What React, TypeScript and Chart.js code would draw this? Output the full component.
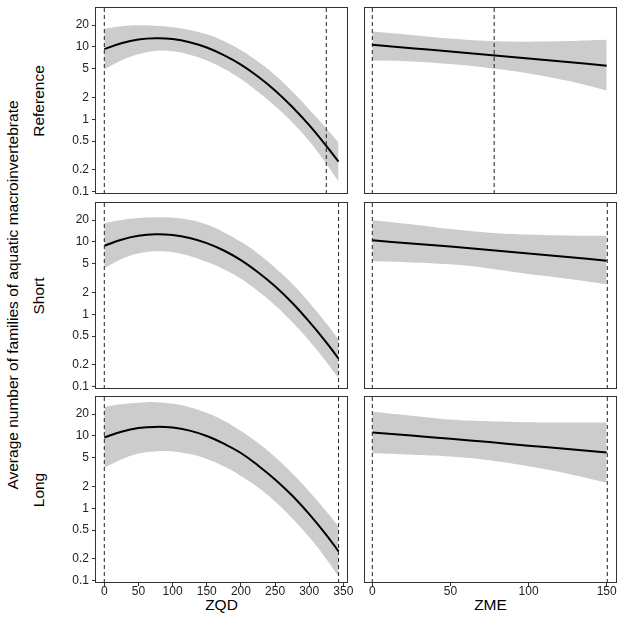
import React, { useEffect, useRef } from "react";
import { Chart, registerables } from "chart.js";
Chart.register(...registerables);

const FONT = "'Liberation Sans', Arial, Helvetica, sans-serif";

// ---- text ----
const ROW_LABELS = ["Reference", "Short", "Long"];
const Y_TITLE = "Average number of families of aquatic macroinvertebrate";
const X_TITLES = ["ZQD", "ZME"];

// ---- tick labels ----
const Y_TICKS = [0.1, 0.2, 0.5, 1, 2, 5, 10, 20];
const ZQD_TICKS = [0, 50, 100, 150, 200, 250, 300, 350];
const ZME_TICKS = [0, 50, 100, 150];

// ---- ZQD data ----
const ZQD_X = [0, 25, 50, 75, 100, 125, 150, 175, 200, 225, 250, 275, 300, 325, 343];
const REF_ZQD_FIT = [9.3, 11.2, 12.6, 13.1, 12.8, 11.6, 9.8, 7.7, 5.7, 3.9, 2.5, 1.49, 0.83, 0.43, 0.26];
const REF_ZQD_HI = [17.8, 19.3, 19.9, 19.6, 18.7, 17.1, 14.9, 12.0, 9.0, 6.3, 4.1, 2.44, 1.37, 0.755, 0.48];
const REF_ZQD_LO = [4.9, 6.5, 7.9, 8.8, 8.7, 7.8, 6.5, 5.0, 3.6, 2.4, 1.52, 0.91, 0.5, 0.244, 0.139];

const SHORT_ZQD_FIT = [8.8, 10.7, 12.1, 12.7, 12.4, 11.3, 9.6, 7.6, 5.6, 3.8, 2.43, 1.44, 0.79, 0.41, 0.245];
const SHORT_ZQD_HI = [18.0, 20.0, 21.3, 21.8, 21.6, 20.2, 17.3, 13.6, 10.0, 6.9, 4.4, 2.65, 1.46, 0.75, 0.45];
const SHORT_ZQD_LO = [4.3, 5.8, 6.9, 7.4, 7.2, 6.4, 5.3, 4.2, 3.1, 2.1, 1.33, 0.78, 0.43, 0.22, 0.132];

const LONG_ZQD_FIT = [9.5, 11.4, 12.8, 13.3, 13.0, 11.8, 9.95, 7.8, 5.8, 3.9, 2.5, 1.5, 0.83, 0.43, 0.254];
const LONG_ZQD_HI = [25.2, 27.3, 28.6, 29.2, 27.7, 24.9, 20.8, 16.2, 11.7, 8.0, 5.1, 3.05, 1.71, 0.91, 0.56];
const LONG_ZQD_LO = [3.6, 4.7, 5.7, 6.1, 6.1, 5.6, 4.8, 3.8, 2.8, 1.95, 1.24, 0.73, 0.4, 0.2, 0.115];

// ---- ZME data ----
const ZME_X = [0, 25, 50, 75, 100, 125, 150];
const REF_ZME_FIT = [10.7, 9.6, 8.6, 7.7, 6.9, 6.2, 5.5];
const REF_ZME_HI = [16.3, 14.6, 13.0, 12.0, 11.8, 12.0, 12.5];
const REF_ZME_LO = [6.5, 6.3, 5.8, 5.1, 4.3, 3.4, 2.5];

const SHORT_ZME_FIT = [10.5, 9.5, 8.6, 7.7, 6.9, 6.2, 5.5];
const SHORT_ZME_HI = [19.9, 17.5, 15.0, 13.4, 12.6, 12.2, 12.1];
const SHORT_ZME_LO = [5.4, 5.2, 4.9, 4.3, 3.6, 3.1, 2.6];

const LONG_ZME_FIT = [11.1, 10.1, 9.1, 8.2, 7.3, 6.6, 5.9];
const LONG_ZME_HI = [21.5, 19.0, 16.8, 15.9, 15.4, 15.3, 15.3];
const LONG_ZME_LO = [5.75, 5.5, 5.2, 4.6, 3.8, 3.0, 2.26];

// ---- dashed reference lines ----
const REF_ZQD_VLINES = [0, 325];
const SHORT_ZQD_VLINES = [0, 343];
const LONG_ZQD_VLINES = [0, 343];
const REF_ZME_VLINES = [0, 78];
const SHORT_ZME_VLINES = [0, 150.4];
const LONG_ZME_VLINES = [0, 150.4];

// ---- axis ranges ----
const Y_MIN = 0.093;
const Y_MAX = 35.5;
const ZQD_RANGE = [-13.6, 356.8];
const ZME_RANGE = [-5.3, 156.6];

// ---- layout ----
const COL_LEFT = [95, 364];
const FRAME_W = 253;
const ROW_TOP = [7, 202, 396];
const FRAME_H = 187;
const Y_AXIS_W = 50;
const X_AXIS_H = 22;
const PAD = 8;
const RIGHT_PAD = [14, 6];

const framePlugin = {
  id: "frame",
  afterDraw(chart: any) {
    const { ctx, chartArea } = chart;
    const { left, top, right, bottom } = chartArea;
    ctx.save();
    ctx.strokeStyle = "#333333";
    ctx.lineWidth = 1;
    ctx.strokeRect(left + 0.5, top + 0.5, right - left - 1, bottom - top - 1);
    ctx.restore();
  },
};

type PanelSpec = {
  row: number;
  col: number;
  x: number[];
  fit: number[];
  hi: number[];
  lo: number[];
  vlines: number[];
};

const PANELS: PanelSpec[] = [
  { row: 0, col: 0, x: ZQD_X, fit: REF_ZQD_FIT, hi: REF_ZQD_HI, lo: REF_ZQD_LO, vlines: REF_ZQD_VLINES },
  { row: 0, col: 1, x: ZME_X, fit: REF_ZME_FIT, hi: REF_ZME_HI, lo: REF_ZME_LO, vlines: REF_ZME_VLINES },
  { row: 1, col: 0, x: ZQD_X, fit: SHORT_ZQD_FIT, hi: SHORT_ZQD_HI, lo: SHORT_ZQD_LO, vlines: SHORT_ZQD_VLINES },
  { row: 1, col: 1, x: ZME_X, fit: SHORT_ZME_FIT, hi: SHORT_ZME_HI, lo: SHORT_ZME_LO, vlines: SHORT_ZME_VLINES },
  { row: 2, col: 0, x: ZQD_X, fit: LONG_ZQD_FIT, hi: LONG_ZQD_HI, lo: LONG_ZQD_LO, vlines: LONG_ZQD_VLINES },
  { row: 2, col: 1, x: ZME_X, fit: LONG_ZME_FIT, hi: LONG_ZME_HI, lo: LONG_ZME_LO, vlines: LONG_ZME_VLINES },
];

function Panel({ p }: { p: PanelSpec }) {
  const ref = useRef<HTMLCanvasElement>(null);
  const showY = p.col === 0;
  const showX = p.row === 2;
  const leftPad = showY ? 0 : PAD;
  const leftSpace = showY ? Y_AXIS_W : PAD;
  const rightPad = RIGHT_PAD[p.col];
  const width = leftSpace + FRAME_W + rightPad;
  const height = PAD + FRAME_H + (showX ? X_AXIS_H : PAD);
  const left = COL_LEFT[p.col] - leftSpace;
  const top = ROW_TOP[p.row] - PAD;
  const range = p.col === 0 ? ZQD_RANGE : ZME_RANGE;
  const xTicks = p.col === 0 ? ZQD_TICKS : ZME_TICKS;

  useEffect(() => {
    if (!ref.current) return;
    const pts = (ys: number[]) => p.x.map((x, i) => ({ x, y: ys[i] }));
    const curve = { tension: 0.4, pointRadius: 0 };
    const datasets: any[] = [
      ...p.vlines.map((v) => ({
        data: [
          { x: v, y: Y_MIN },
          { x: v, y: Y_MAX },
        ],
        borderColor: "#222222",
        borderWidth: 1,
        borderDash: [4, 3],
        pointRadius: 0,
        fill: false,
        tension: 0,
      })),
      { data: pts(p.fit), borderColor: "#000000", borderWidth: 2, fill: false, ...curve },
      {
        data: pts(p.hi),
        borderColor: "rgba(0,0,0,0)",
        borderWidth: 0,
        backgroundColor: "#cccccc",
        fill: "+1",
        ...curve,
      },
      { data: pts(p.lo), borderColor: "rgba(0,0,0,0)", borderWidth: 0, fill: false, ...curve },
    ];
    const chart = new Chart(ref.current, {
      type: "line",
      data: { datasets },
      options: {
        animation: false,
        responsive: false,
        maintainAspectRatio: false,
        devicePixelRatio: 1,
        layout: { padding: { left: leftPad, right: rightPad, top: PAD, bottom: showX ? 0 : PAD } },
        plugins: { legend: { display: false }, tooltip: { enabled: false } },
        scales: {
          x: {
            type: "linear",
            min: range[0],
            max: range[1],
            display: showX,
            afterBuildTicks: (s: any) => {
              s.ticks = xTicks.map((v) => ({ value: v }));
            },
            afterFit: (s: any) => {
              if (!showX) return;
              s.height = X_AXIS_H;
              s.paddingLeft = 0;
              s.paddingRight = 0;
            },
            ticks: {
              autoSkip: false,
              maxRotation: 0,
              padding: 0,
              color: "#222222",
              font: { family: FONT, size: 12, lineHeight: 1 },
              callback: (v: any) => String(v),
            },
            grid: { drawOnChartArea: false, drawTicks: true, tickLength: 3, color: "#333333" },
            border: { display: false },
          },
          y: {
            type: "logarithmic",
            min: Y_MIN,
            max: Y_MAX,
            display: showY,
            afterBuildTicks: (s: any) => {
              s.ticks = Y_TICKS.map((v) => ({ value: v }));
            },
            afterFit: (s: any) => {
              if (!showY) return;
              s.width = Y_AXIS_W;
              s.paddingTop = 0;
              s.paddingBottom = 0;
            },
            ticks: {
              autoSkip: false,
              padding: 3,
              color: "#222222",
              font: { family: FONT, size: 12 },
              callback: (v: any) => String(v),
            },
            grid: { drawOnChartArea: false, drawTicks: true, tickLength: 3, color: "#333333" },
            border: { display: false },
          },
        },
      } as any,
      plugins: [framePlugin],
    });
    return () => chart.destroy();
  }, []);

  return (
    <canvas
      ref={ref}
      width={width}
      height={height}
      style={{ position: "absolute", left, top, width, height }}
    />
  );
}

function VText({ text, cx, cy, size }: { text: string; cx: number; cy: number; size: number }) {
  return (
    <div
      style={{
        position: "absolute",
        left: cx,
        top: cy,
        transform: "translate(-50%, -50%) rotate(-90deg)",
        whiteSpace: "nowrap",
        fontFamily: FONT,
        fontSize: size,
        color: "#000",
        lineHeight: 1.15,
      }}
    >
      {text}
    </div>
  );
}

export default function App() {
  const rowCenters = ROW_TOP.map((t) => t + FRAME_H / 2);
  return (
    <div
      style={{
        position: "absolute",
        left: 0,
        top: 0,
        width: 624,
        height: 624,
        background: "#ffffff",
        overflow: "hidden",
      }}
    >
      <VText text={Y_TITLE} cx={13} cy={295} size={15.5} />
      {ROW_LABELS.map((r, i) => (
        <VText key={r} text={r} cx={39} cy={rowCenters[i]} size={15.5} />
      ))}
      {X_TITLES.map((t, i) => (
        <div
          key={t}
          style={{
            position: "absolute",
            left: COL_LEFT[i] + FRAME_W / 2,
            top: 605,
            transform: "translate(-50%, -50%)",
            whiteSpace: "nowrap",
            fontFamily: FONT,
            fontSize: 15.5,
            color: "#000",
            lineHeight: 1.15,
          }}
        >
          {t}
        </div>
      ))}
      {PANELS.map((p) => (
        <Panel key={`${p.row}-${p.col}`} p={p} />
      ))}
    </div>
  );
}
